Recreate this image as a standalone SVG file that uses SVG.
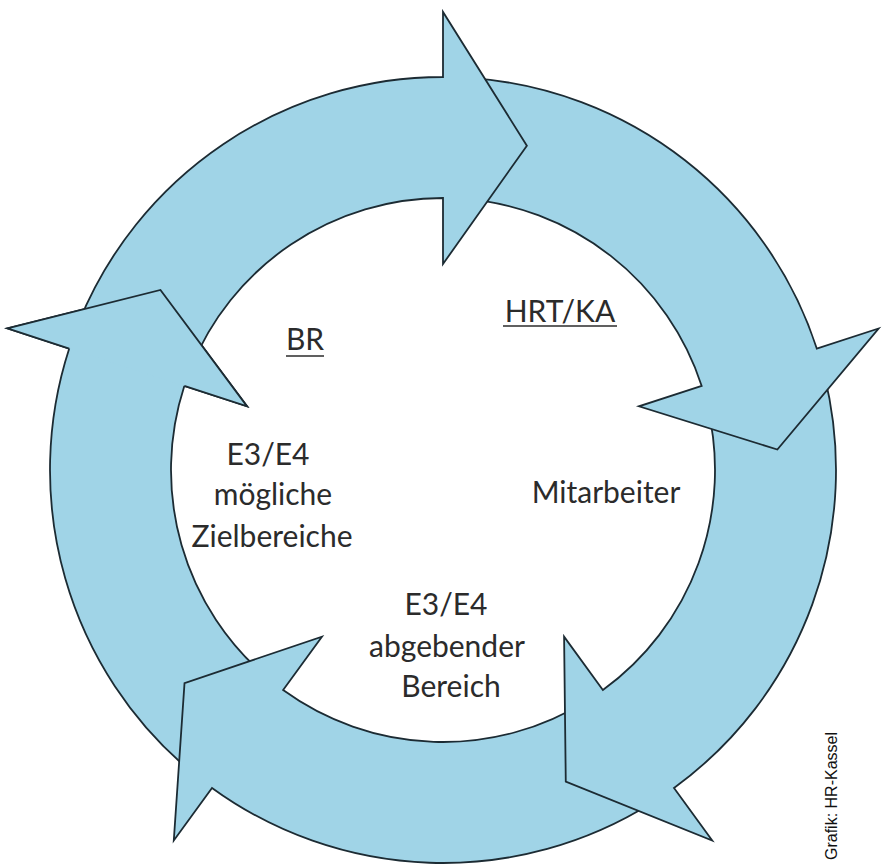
<svg xmlns="http://www.w3.org/2000/svg" width="883" height="865" viewBox="0 0 883 865">
<style>
.arr{fill:#a0d4e7;stroke:#1c2b33;stroke-width:1.8;stroke-linejoin:miter}
.fillonly{fill:#a0d4e7;stroke:none}
.lineonly{fill:none;stroke:#1c2b33;stroke-width:1.8}
.lbl{font-family:Lato,"Open Sans","Liberation Sans",sans-serif;font-size:30px;fill:#2b2b2b;text-anchor:middle}
.credit{font-family:"Liberation Sans",Arial,sans-serif;font-size:16px;fill:#111}
</style>
<rect width="883" height="865" fill="#ffffff"/>
<g id="cycle">
<g id="arrow5">
<path class="arr" d="M190.38,771.05 A393,393 0 0 1 69.23,348.56 L7.41,328.47 L160.46,290 L247.08,406.34 L184.31,385.95 A272,272 0 0 0 268.16,678.36 Z"/>
</g>
<g id="arrow4">
<path class="arr" d="M651.26,803.28 A393,393 0 0 1 212,787.94 L173.79,840.53 L184.51,683.09 L321.92,636.66 L283.12,690.05 A272,272 0 0 0 587.14,700.67 Z"/>
</g>
<g id="arrow3">
<path class="arr" d="M824.33,374.93 A393,393 0 0 1 674,787.94 L712.21,840.53 L565.78,781.69 L564.08,636.66 L602.88,690.05 A272,272 0 0 0 706.92,404.2 Z"/>
</g>
<g id="arrow2">
<path class="arr" d="M470.41,77.96 A393,393 0 0 1 816.77,348.56 L878.59,328.47 L777.37,449.55 L638.92,406.34 L701.69,385.95 A272,272 0 0 0 461.97,198.66 Z"/>
</g>
<g id="arrow1">
<path class="arr" d="M78.62,322.78 A393,393 0 0 1 443,77 L443,12 L526.88,145.67 L443,264 L443,198 A272,272 0 0 0 190.81,368.11 Z"/>
</g>
<g id="arrow5-head">
<path class="fillonly" d="M69.23,348.56 L7.41,328.47 L160.46,290 L247.08,406.34 L184.31,385.95 Z"/>
<path class="lineonly" d="M69.23,348.56 L7.41,328.47 L160.46,290 L247.08,406.34 L184.31,385.95"/>
</g>
</g>
<g id="label-br">
<text class="lbl" x="305" y="350">BR</text>
<line x1="286" y1="356" x2="324" y2="356" stroke="#2b2b2b" stroke-width="1.6"/>
</g>
<g id="label-hrt">
<text class="lbl" x="560" y="322">HRT/KA</text>
<line x1="503" y1="326" x2="617" y2="326" stroke="#2b2b2b" stroke-width="1.6"/>
</g>
<g id="label-ziel">
<text class="lbl" x="268" y="465">E3/E4</text>
<text class="lbl" x="273" y="505">mögliche</text>
<text class="lbl" x="272" y="547">Zielbereiche</text>
</g>
<g id="label-mitarbeiter">
<text class="lbl" x="606" y="503">Mitarbeiter</text>
</g>
<g id="label-abgebend">
<text class="lbl" x="446" y="615">E3/E4</text>
<text class="lbl" x="447" y="657">abgebender</text>
<text class="lbl" x="451" y="697">Bereich</text>
</g>
<text class="credit" transform="translate(837,860) rotate(-90)">Grafik: HR-Kassel</text>
</svg>
